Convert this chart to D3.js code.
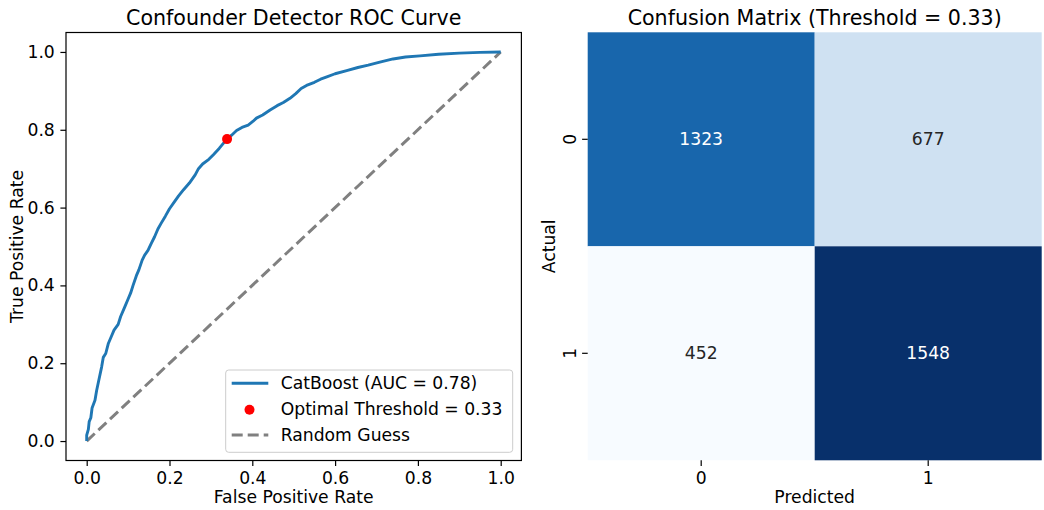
<!DOCTYPE html>
<html><head><meta charset="utf-8">
<script src="https://cdn.jsdelivr.net/npm/d3@7"></script>
<style>body{margin:0;background:#fff}svg{display:block;font-family:"DejaVu Sans",sans-serif}</style>
</head><body><svg id="c" width="1044" height="510"></svg>
<script>
// ROC data
const rocFpr = [0,0,0.004,0.006,0.01,0.013,0.02,0.024,0.03,0.036,0.04,0.046,0.052,0.06,0.066,0.076,0.082,0.092,0.1,0.106,0.112,0.12,0.126,0.134,0.14,0.148,0.156,0.164,0.172,0.18,0.19,0.2,0.21,0.222,0.234,0.248,0.262,0.27,0.28,0.295,0.306,0.32,0.33,0.339,0.35,0.362,0.375,0.39,0.402,0.41,0.425,0.443,0.46,0.475,0.491,0.505,0.518,0.531,0.55,0.565,0.58,0.6,0.628,0.655,0.68,0.708,0.74,0.77,0.805,0.85,0.9,0.95,1];
const rocTpr = [0,0.015,0.03,0.05,0.06,0.085,0.105,0.13,0.16,0.19,0.215,0.225,0.25,0.27,0.285,0.30,0.32,0.345,0.365,0.38,0.40,0.425,0.44,0.465,0.478,0.49,0.508,0.525,0.545,0.56,0.578,0.597,0.612,0.63,0.646,0.663,0.684,0.70,0.712,0.724,0.736,0.752,0.765,0.776,0.786,0.798,0.806,0.812,0.822,0.83,0.838,0.851,0.862,0.87,0.881,0.893,0.906,0.914,0.922,0.93,0.936,0.944,0.952,0.96,0.966,0.974,0.982,0.987,0.99,0.994,0.997,0.999,1];
const optimalPoint = [0.339, 0.776];
const rocTicks = [0, 0.2, 0.4, 0.6, 0.8, 1.0];
const legendLabels = ["CatBoost (AUC = 0.78)", "Optimal Threshold = 0.33", "Random Guess"];
// Confusion matrix
const cmLabels = ["0", "1"];
const cmValues = [[1323, 677], [452, 1548]];
const bluesColors = ["#f7fbff","#deebf7","#c6dbef","#9ecae1","#6baed6","#4292c6","#2171b5","#08519c","#08306b"];

const svg = d3.select("#c");
const FS = 17.2, TFS = 20.6;

// ---------- ROC panel ----------
const L = {left:66, right:521.4, top:32.5, bottom:460.5};
const x = d3.scaleLinear().domain([-0.05,1.05]).range([L.left, L.right]);
const y = d3.scaleLinear().domain([-0.05,1.05]).range([L.bottom, L.top]);
const g1 = svg.append("g");

g1.append("path").datum([[0,0],[1,1]])
  .attr("d", d3.line().x(d=>x(d[0])).y(d=>y(d[1])))
  .attr("fill","none").attr("stroke","#808080").attr("stroke-width",3)
  .attr("stroke-dasharray","11,5");

const roc = rocFpr.map((f,i)=>[f, rocTpr[i]]);
g1.append("path").datum(roc)
  .attr("d", d3.line().x(d=>x(d[0])).y(d=>y(d[1])))
  .attr("fill","none").attr("stroke","#1f77b4").attr("stroke-width",2.9)
  .attr("stroke-linejoin","round");

g1.append("circle").attr("cx", x(optimalPoint[0])).attr("cy", y(optimalPoint[1]))
  .attr("r",5).attr("fill","red");

// axes
const xa = g1.append("g").attr("transform",`translate(0,${L.bottom})`)
  .call(d3.axisBottom(x).tickValues(rocTicks).tickFormat(d3.format(".1f")).tickSize(5.6).tickPadding(5.6));
const ya = g1.append("g").attr("transform",`translate(${L.left},0)`)
  .call(d3.axisLeft(y).tickValues(rocTicks).tickFormat(d3.format(".1f")).tickSize(5.6).tickPadding(5.6));
[xa,ya].forEach(a=>{
  a.select(".domain").remove();
  a.selectAll("text").attr("font-size",FS).attr("font-family","DejaVu Sans").attr("fill","#000");
  a.selectAll("line").attr("stroke","#000").attr("stroke-width",1.2);
});
g1.append("rect").attr("x",L.left).attr("y",L.top).attr("width",L.right-L.left).attr("height",L.bottom-L.top)
  .attr("fill","none").attr("stroke","#000").attr("stroke-width",1.2);

g1.append("text").attr("x",(L.left+L.right)/2).attr("y",24.5).attr("text-anchor","middle")
  .attr("font-size",TFS).text("Confounder Detector ROC Curve");
g1.append("text").attr("x",(L.left+L.right)/2).attr("y",503).attr("text-anchor","middle")
  .attr("font-size",FS).text("False Positive Rate");
g1.append("text").attr("transform",`translate(23,${(L.top+L.bottom)/2}) rotate(-90)`).attr("text-anchor","middle")
  .attr("font-size",FS).text("True Positive Rate");

// legend
const lg = g1.append("g");
lg.append("rect").attr("x",225.7).attr("y",370).attr("width",287).attr("height",82.3).attr("rx",3)
  .attr("fill","#fff").attr("fill-opacity",0.8).attr("stroke","#ccc").attr("stroke-width",1);
const rowsY = [383.3, 408.8, 435];
lg.append("line").attr("x1",231.7).attr("x2",268.3).attr("y1",rowsY[0]).attr("y2",rowsY[0])
  .attr("stroke","#1f77b4").attr("stroke-width",2.9);
lg.append("circle").attr("cx",249.5).attr("cy",rowsY[1]+1).attr("r",5).attr("fill","red");
lg.append("line").attr("x1",231.7).attr("x2",268.3).attr("y1",rowsY[2]).attr("y2",rowsY[2])
  .attr("stroke","#808080").attr("stroke-width",3).attr("stroke-dasharray","11,5");
legendLabels.forEach((t,i)=>{
  lg.append("text").attr("x",280.7).attr("y",rowsY[i]).attr("dy","0.35em").attr("font-size",FS).text(t);
});

// ---------- Confusion matrix ----------
const H = {left:587.7, right:1041.7, top:32.3, bottom:460.3};
const cx = d3.scaleBand().domain(cmLabels).range([H.left,H.right]);
const cy = d3.scaleBand().domain(cmLabels).range([H.top,H.bottom]);
const flat = cmValues.flat();
const vmin = d3.min(flat), vmax = d3.max(flat);
const color = d3.scaleLinear()
  .domain(bluesColors.map((_,i)=>vmin + (vmax-vmin)*i/(bluesColors.length-1)))
  .range(bluesColors).interpolate(d3.interpolateRgb);
const g2 = svg.append("g");
const cells = [];
cmValues.forEach((row,r)=>row.forEach((v,c)=>cells.push({r:cmLabels[r],c:cmLabels[c],v})));
g2.selectAll("rect.cell").data(cells).join("rect").attr("class","cell")
  .attr("x",d=>cx(d.c)).attr("y",d=>cy(d.r)).attr("width",cx.bandwidth()).attr("height",cy.bandwidth())
  .attr("fill",d=>color(d.v));
function lum(col){const c=d3.rgb(col);const f=v=>{v/=255;return v<=0.03928?v/12.92:Math.pow((v+0.055)/1.055,2.4);};return 0.2126*f(c.r)+0.7152*f(c.g)+0.0722*f(c.b);}
g2.selectAll("text.ann").data(cells).join("text").attr("class","ann")
  .attr("x",d=>cx(d.c)+cx.bandwidth()/2).attr("y",d=>cy(d.r)+cy.bandwidth()/2).attr("dy","0.35em")
  .attr("text-anchor","middle").attr("font-size",FS)
  .attr("fill",d=>lum(color(d.v))>0.408?"#262626":"#ffffff").text(d=>d.v);

const hx = g2.append("g").attr("transform",`translate(0,${H.bottom})`)
  .call(d3.axisBottom(cx).tickSize(5.6).tickPadding(5.6));
const hy = g2.append("g").attr("transform",`translate(${H.left},0)`)
  .call(d3.axisLeft(cy).tickSize(5.6).tickPadding(5.6));
[hx,hy].forEach(a=>{
  a.select(".domain").remove();
  a.selectAll("text").attr("font-size",FS).attr("font-family","DejaVu Sans").attr("fill","#000");
  a.selectAll("line").attr("stroke","#000").attr("stroke-width",1.2);
});
hy.selectAll(".tick text").attr("text-anchor","middle").attr("x",-18).attr("dy","0")
  .attr("transform","rotate(-90,-18,0)").attr("dominant-baseline","central");
g2.append("text").attr("x",(H.left+H.right)/2).attr("y",24.5).attr("text-anchor","middle")
  .attr("font-size",TFS).text("Confusion Matrix (Threshold = 0.33)");
g2.append("text").attr("x",(H.left+H.right)/2).attr("y",503).attr("text-anchor","middle")
  .attr("font-size",FS).text("Predicted");
g2.append("text").attr("transform",`translate(555,${(H.top+H.bottom)/2}) rotate(-90)`).attr("text-anchor","middle")
  .attr("font-size",FS).text("Actual");
</script></body></html>
